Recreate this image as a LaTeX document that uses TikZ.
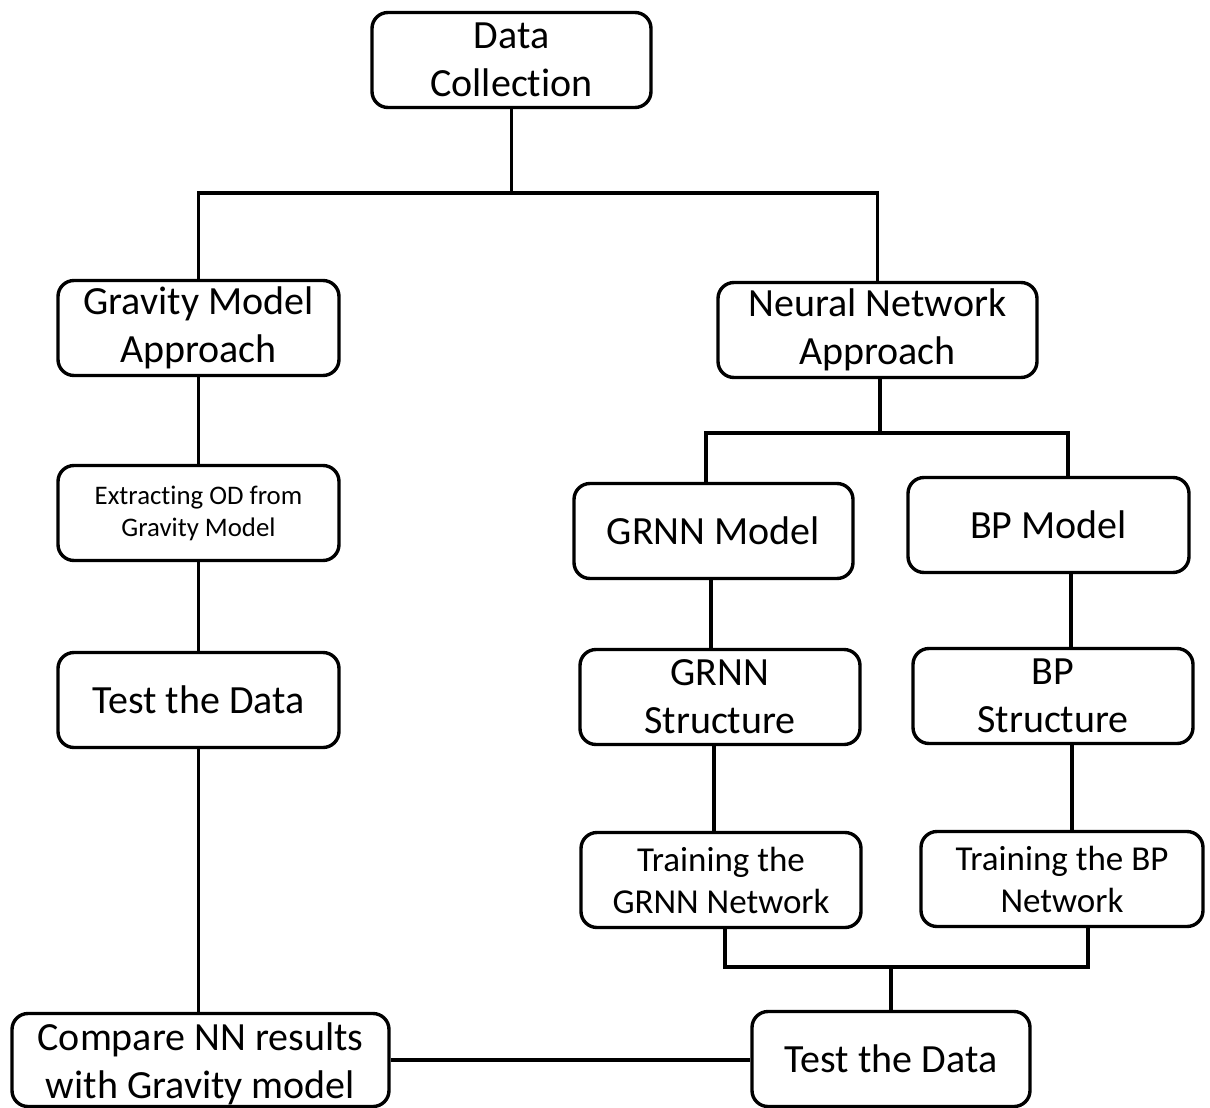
\documentclass[tikz,border=0pt]{standalone}
\usepackage{fontspec}
\setmainfont{Carlito}[RawFeature=-liga]
\begin{document}
\begin{tikzpicture}[x=0.5pt,y=-0.5pt,
  box/.style={draw=black, line width=1.7pt, rounded corners=8pt, fill=white,
    align=center, inner sep=0pt, minimum width=#1*0.5pt, minimum height=47.5pt},
  big/.style={font=\fontsize{20}{24}\selectfont},
  mid/.style={font=\fontsize{17.5}{21}\selectfont},
  small/.style={font=\fontsize{13.4}{16}\selectfont},
  conn/.style={line width=1.7pt}]
\useasboundingbox (0,0) rectangle (1210,1108);
\fill[white] (0,0) rectangle (1210,1108);
% nodes
\node[box=279, big] (dc) at (511.5,60) {Data\\Collection};
\node[box=281, big] (gm) at (198.5,328) {Gravity Model\\Approach};
\node[box=319, big] (nn) at (877.5,330) {Neural Network\\Approach};
\node[box=281, small] (od) at (198.5,513) {Extracting OD from\\Gravity Model};
\node[box=281, big] (tl) at (198.5,700) {Test the Data};
\node[box=279, big] (gr) at (713.5,531) {GRNN Model};
\node[box=281, big] (bp) at (1048.5,525) {BP Model};
\node[box=280, big] (gs) at (720,697) {GRNN\\Structure};
\node[box=280, big] (bs) at (1053,696) {BP\\Structure};
\node[box=280, mid] (gt) at (721,880) {Training the\\GRNN Network};
\node[box=282, mid] (bt) at (1062,879) {Training the BP\\Network};
\node[box=377, minimum height=46.5pt, big] (cmp) at (200.5,1060) {};
\node[big, align=center, inner sep=0pt] (cmpt) at (200.5,1064) {Compare NN results\\with Gravity model};
\node[box=278, big] (tr) at (891,1059) {Test the Data};
% junction coordinates
\coordinate (j1) at (511.5,193);
\coordinate (j2) at (880,433);
\coordinate (j3) at (891,967);
% connectors
\draw[conn] (dc.south) -- (j1);
\draw[conn] (gm.north) |- (j1) -| (nn.north);
\draw[conn] (nn.south -| j2) -- (j2);
\draw[conn] (gr.north -| 706,0) |- (j2) -| (bp.north -| 1068,0);
\draw[conn] (gm) -- (od);
\draw[conn] (od) -- (tl);
\draw[conn] (tl.south) -- (cmp.north -| tl.south);
\draw[conn] (gr.south -| 711,0) -- (gs.north -| 711,0);
\draw[conn] (gs.south -| 714,0) -- (gt.north -| 714,0);
\draw[conn] (bp.south -| 1071,0) -- (bs.north -| 1071,0);
\draw[conn] (bs.south -| 1072,0) -- (bt.north -| 1072,0);
\draw[conn] (gt.south -| 725,0) |- (j3) -| (bt.south -| 1088,0);
\draw[conn] (j3) -- (tr.north);
\draw[conn] (cmp.east) -- (tr.west |- cmp.east);
\end{tikzpicture}
\end{document}
